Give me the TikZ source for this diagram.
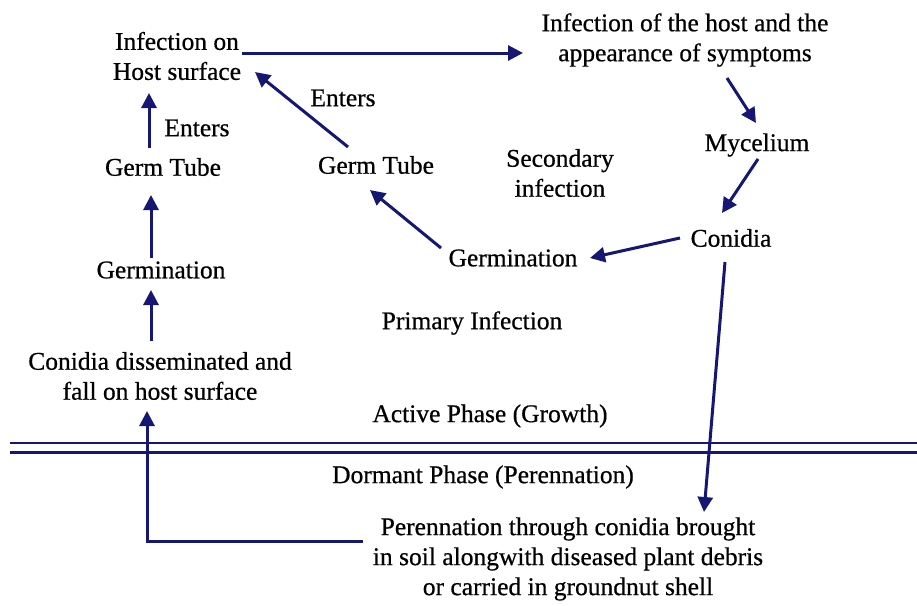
\documentclass[tikz,border=0pt]{standalone}
\usepackage{fontspec}
\setmainfont[FakeBold=0.6]{Liberation Serif}
\usetikzlibrary{arrows.meta}
\definecolor{navy}{RGB}{22,22,115}
\tikzset{
  lbl/.style={inner sep=0pt, align=center, font=\fontsize{25.5}{30}\selectfont},
  arr/.style={draw=navy, line width=3pt, -{Triangle[length=15pt,width=15pt]}},
  rule/.style={draw=navy, line width=2.8pt}
}
\begin{document}
\begin{tikzpicture}[x=1pt,y=-1pt]
\useasboundingbox[fill=white] (0,0) rectangle (917,605);

% stages of the cycle
\node[lbl] (ionh)   at (177,56)  {Infection on\\Host surface};
\node[lbl] (ihost)  at (685,40)  {Infection of the host and the\\appearance of symptoms};
\node[lbl] (myc)    at (757,145) {Mycelium};
\node[lbl] (con)    at (731,238) {Conidia};
\node[lbl] (germB)  at (513,258) {Germination};
\node[lbl] (tubeB)  at (376,165) {Germ Tube};
\node[lbl] (tubeA)  at (163,167) {Germ Tube};
\node[lbl] (germA)  at (161,270) {Germination};
\node[lbl] (diss)   at (160,376) {Conidia disseminated and\\fall on host surface};
\node[lbl] (peren)  at (568,559) {Perennation through conidia brought\\in soil alongwith diseased plant debris\\or carried in groundnut shell};

% captions
\node[lbl] (entA)   at (197,128) {Enters};
\node[lbl] (entB)   at (343,98)  {Enters};
\node[lbl] (sec)    at (560,173) {Secondary\\infection};
\node[lbl] (prim)   at (472,323) {Primary Infection};
\node[lbl] (active) at (490,416) {Active Phase (Growth)};
\node[lbl] (dorm)   at (483,477) {Dormant Phase (Perennation)};

% boundary between the active and dormant phases
\coordinate (ruleL) at (10,443);
\coordinate (ruleR) at (917,443);
\draw[rule] (ruleL) -- (ruleR);
\draw[rule] ([shift={(0,9.5)}]ruleL) -- ([shift={(0,9.5)}]ruleR);

% secondary cycle
\draw[arr] ([shift={(65,-3)}]ionh.center)  -- ([shift={(-162,13)}]ihost.center);
\draw[arr] ([shift={(42,38)}]ihost.center) -- ([shift={(-1,-22)}]myc.center);
\draw[arr] ([shift={(1,14)}]myc.center)    -- ([shift={(-9,-25)}]con.center);
\draw[arr] ([shift={(-51,0)}]con.center)   -- ([shift={(77,0)}]germB.center);
\draw[arr] ([shift={(-72,-10)}]germB.center) -- ([shift={(-6,25)}]tubeB.center);
\draw[arr] ([shift={(-28,-18)}]tubeB.center) -- ([shift={(78,16)}]ionh.center);

% primary cycle
\draw[arr] ([shift={(-14,-19)}]tubeA.center) -- ([shift={(-28,37)}]ionh.center);
\draw[arr] ([shift={(-10,-12)}]germA.center) -- ([shift={(-12,28)}]tubeA.center);
\draw[arr] ([shift={(-9,-35)}]diss.center)   -- ([shift={(-10,20)}]germA.center);

% perennation and return to the host
\draw[arr] ([shift={(-6,24)}]con.center) -- ([shift={(136,-47)}]peren.center);
\draw[arr] ([shift={(-205,-18)}]peren.center) -| ([shift={(-13,35)}]diss.center);
\end{tikzpicture}
\end{document}
